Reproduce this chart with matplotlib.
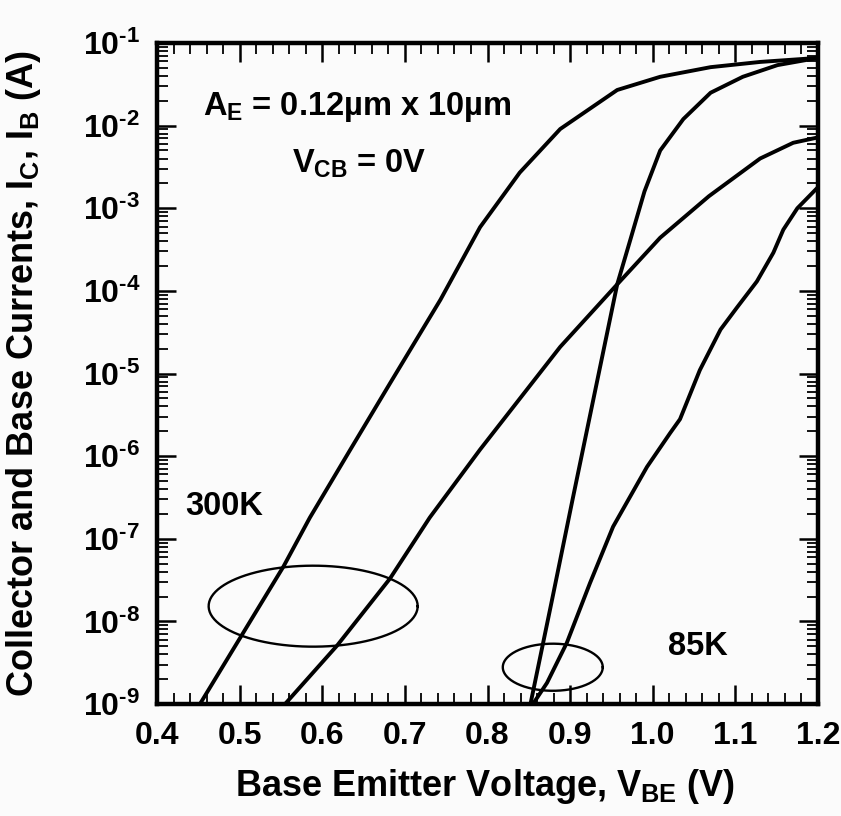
import numpy as np
import matplotlib
matplotlib.use('Agg')
import matplotlib.pyplot as plt
from matplotlib.ticker import FixedLocator, MultipleLocator, FuncFormatter, LogLocator, NullFormatter

plt.rcParams['font.family'] = ['Liberation Sans', 'DejaVu Sans']
plt.rcParams['font.weight'] = 'bold'
plt.rcParams['mathtext.fontset'] = 'custom'
plt.rcParams['mathtext.rm'] = 'Liberation Sans:bold'
plt.rcParams['mathtext.it'] = 'Liberation Sans:bold'
plt.rcParams['mathtext.bf'] = 'Liberation Sans:bold'
plt.rcParams['mathtext.sf'] = 'Liberation Sans:bold'

# datos (V, A)
# 300K, corriente de colector
vbe_300_ic = [0.452, 0.553, 0.585, 0.634, 0.682, 0.743, 0.791, 0.839, 0.888, 0.957, 1.009, 1.07, 1.13, 1.2]
ic_300 = [1.0e-9, 4.6e-8, 1.8e-7, 1.2e-6, 7.6e-6, 7.8e-5, 5.9e-4, 2.7e-3, 9.1e-3, 2.7e-2, 3.9e-2, 5.1e-2, 5.9e-2, 6.6e-2]
# 300K, corriente de base
vbe_300_ib = [0.555, 0.618, 0.682, 0.730, 0.791, 0.888, 0.957, 1.009, 1.068, 1.13, 1.17, 1.2]
ib_300 = [1.0e-9, 5.1e-9, 3.3e-8, 1.8e-7, 1.2e-6, 2.1e-5, 1.2e-4, 4.4e-4, 1.4e-3, 4.0e-3, 6.2e-3, 7.2e-3]
# 85K, corriente de colector
vbe_85_ic = [0.852, 0.878, 0.903, 0.928, 0.957, 0.973, 0.990, 1.009, 1.037, 1.07, 1.109, 1.151, 1.2]
ic_85 = [1.0e-9, 1.8e-8, 3.0e-7, 4.8e-6, 1.2e-4, 4.2e-4, 1.6e-3, 5.0e-3, 1.2e-2, 2.5e-2, 3.9e-2, 5.4e-2, 6.6e-2]
# 85K, corriente de base
vbe_85_ib = [0.855, 0.872, 0.896, 0.924, 0.952, 0.993, 1.021, 1.033, 1.057, 1.082, 1.102, 1.126, 1.146, 1.158, 1.175, 1.2]
ib_85 = [1.0e-9, 1.8e-9, 5.5e-9, 2.9e-8, 1.4e-7, 7.4e-7, 1.9e-6, 2.8e-6, 1.1e-5, 3.4e-5, 6.3e-5, 1.3e-4, 2.9e-4, 5.5e-4, 1.0e-3, 1.8e-3]

xticks = [0.4, 0.5, 0.6, 0.7, 0.8, 0.9, 1.0, 1.1, 1.2]
ydecades = [-9, -8, -7, -6, -5, -4, -3, -2, -1]

# elipses que agrupan las curvas (centro V, semiancho V, centro log I, semialto decadas)
elipse_300 = (0.589, 0.1265, -7.816, 0.49)
elipse_85 = (0.879, 0.0605, -8.555, 0.285)

fig = plt.figure(figsize=(8.41, 8.16), dpi=100, facecolor='#fbfbfb')
ax = fig.add_axes([157/841, 1-704/816, 661/841, 661/816])
ax.set_facecolor('#fbfbfb')

for v, i in [(vbe_300_ic, ic_300), (vbe_300_ib, ib_300), (vbe_85_ic, ic_85), (vbe_85_ib, ib_85)]:
    ax.plot(v, i, c='k', lw=2.8, solid_joinstyle='round')

t = np.linspace(0, 2*np.pi, 200)
for cx, a, cy, b in [elipse_300, elipse_85]:
    ax.plot(cx + a*np.cos(t), 10**(cy + b*np.sin(t)), c='k', lw=1.7)

ax.set_yscale('log')
ax.set_xlim(0.4, 1.2)
ax.set_ylim(1e-9, 1e-1)

ax.xaxis.set_major_locator(FixedLocator(xticks))
ax.xaxis.set_minor_locator(MultipleLocator(0.02))
ax.xaxis.set_major_formatter(FuncFormatter(lambda x, p: '%.1f' % x))
ax.yaxis.set_major_locator(FixedLocator([10.0**d for d in ydecades]))
ax.yaxis.set_minor_locator(LogLocator(base=10, subs=np.arange(2, 10), numticks=20))
ax.yaxis.set_minor_formatter(NullFormatter())
ax.yaxis.set_major_formatter(FuncFormatter(lambda y, p: r'$10^{\text{-}%d}$' % abs(round(np.log10(y)))))

ax.tick_params(which='both', direction='in', top=True, right=True)
ax.tick_params(which='major', length=14, width=1.8, labelsize=23)
ax.tick_params(axis='x', which='major', pad=12)
ax.tick_params(axis='y', which='major', pad=12)
ax.tick_params(which='minor', length=8, width=1.3)
for s in ax.spines.values():
    s.set_linewidth(3.2)

ax.set_xlabel(r'Base Emitter Voltage, $V_{BE}$ (V)', fontsize=26, fontweight='bold')
ax.set_ylabel(r'Collector and Base Currents, $I_C$, $I_B$ (A)', fontsize=26, fontweight='bold')
ax.xaxis.set_label_coords(0.496, -0.095)
ax.yaxis.set_label_coords(-0.172, 0.5)

ax.text(0.456, 10**-1.87, r'$A_E$ = 0.12µm x 10µm', fontsize=23.5, fontweight='bold')
ax.text(0.563, 10**-2.57, r'$V_{CB}$ = 0V', fontsize=23.5, fontweight='bold')
ax.text(0.434, 10**-6.71, '300K', fontsize=23.5, fontweight='bold')
ax.text(1.019, 10**-8.41, '85K', fontsize=23.5, fontweight='bold')

plt.savefig('out.png', dpi=100, facecolor=fig.get_facecolor())
